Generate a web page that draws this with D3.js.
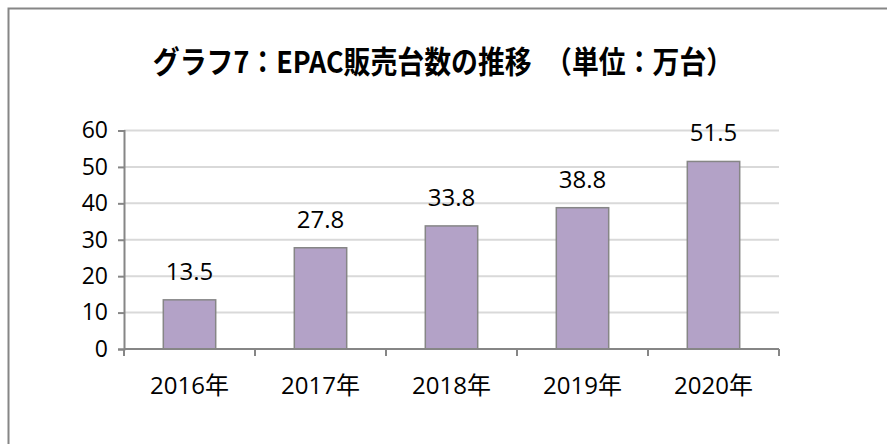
<!DOCTYPE html>
<html>
<head>
<meta charset="utf-8">
<script src="https://cdn.jsdelivr.net/npm/d3@7"></script>
<style>
  body { margin: 0; background: #fff; }
  svg { display: block; }
</style>
</head>
<body>
<svg id="chart" width="887" height="444"></svg>
<script>
// データ
const categories = ["2016年", "2017年", "2018年", "2019年", "2020年"]
const values = [13.5, 27.8, 33.8, 38.8, 51.5]
const yTicks = [0, 10, 20, 30, 40, 50, 60]
const title = "グラフ7：EPAC販売台数の推移　（単位：万台）"

const width = 887
const height = 444
const margin = { top: 130.5, right: 108, bottom: 95, left: 124 }
const font = "'Open Sans', 'Noto Sans CJK JP', sans-serif"

const svg = d3.select("#chart")

// 外枠
svg.append("rect")
    .attr("x", 8.5).attr("y", 8.5)
    .attr("width", width + 20).attr("height", height + 20)
    .attr("fill", "#fff")
    .attr("stroke", "#868686")
    .attr("stroke-width", 2)

// タイトル（縦長の書体に近づける）
svg.append("text")
    .attr("transform", "translate(443,73) scale(0.96,1.08)")
    .attr("text-anchor", "middle")
    .attr("font-family", "'Noto Sans CJK JP', sans-serif")
    .attr("font-weight", "bold")
    .attr("font-size", 28)
    .attr("fill", "#000")
    .text(title)

// 比例尺
const xScale = d3.scaleBand()
    .domain(categories)
    .range([margin.left, width - margin.right])
    .paddingInner(0.6)
    .paddingOuter(0.3)

const bandScale = d3.scaleBand()
    .domain(categories)
    .range([margin.left, width - margin.right])

const yScale = d3.scaleLinear()
    .domain([0, 60])
    .range([height - margin.bottom, margin.top])

// グリッド線
svg.append("g")
    .selectAll("line")
    .data(yTicks.filter(d => d > 0))
    .enter()
    .append("line")
    .attr("x1", margin.left).attr("x2", width - margin.right)
    .attr("y1", d => yScale(d)).attr("y2", d => yScale(d))
    .attr("stroke", "#d9d9d9")
    .attr("stroke-width", 2)

// 棒
svg.append("g")
    .selectAll("rect")
    .data(values)
    .enter()
    .append("rect")
    .attr("x", (d, i) => xScale(categories[i]))
    .attr("y", d => yScale(d))
    .attr("width", xScale.bandwidth())
    .attr("height", d => yScale(0) - yScale(d))
    .attr("fill", "#b3a2c7")
    .attr("stroke", "#868686")
    .attr("stroke-width", 1.5)

// データラベル
svg.append("g")
    .selectAll("text")
    .data(values)
    .enter()
    .append("text")
    .attr("x", (d, i) => xScale(categories[i]) + xScale.bandwidth() / 2)
    .attr("y", d => yScale(d) - 20)
    .attr("text-anchor", "middle")
    .attr("font-family", font)
    .attr("font-size", 24)
    .attr("fill", "#000")
    .text(d => d.toFixed(1))

// Y軸
const yAxis = svg.append("g")
    .attr("transform", "translate(" + margin.left + ",0)")
    .call(d3.axisLeft(yScale).tickValues(yTicks).tickSize(6).tickPadding(10))
yAxis.select(".domain").attr("stroke", "#868686").attr("stroke-width", 2)
yAxis.selectAll(".tick line").attr("stroke", "#868686").attr("stroke-width", 2)
yAxis.selectAll(".tick text")
    .attr("font-family", font)
    .attr("font-size", 23)
    .attr("fill", "#000")

// X軸
const xAxis = svg.append("g")
    .attr("transform", "translate(0," + yScale(0) + ")")
xAxis.append("line")
    .attr("x1", margin.left).attr("x2", width - margin.right)
    .attr("stroke", "#868686").attr("stroke-width", 2)
xAxis.selectAll(".xtick")
    .data(categories.map(c => bandScale(c)).concat([width - margin.right]))
    .enter()
    .append("line")
    .attr("x1", d => d).attr("x2", d => d)
    .attr("y1", 0).attr("y2", 7)
    .attr("stroke", "#868686").attr("stroke-width", 2)
xAxis.selectAll(".xlabel")
    .data(categories)
    .enter()
    .append("text")
    .attr("x", d => bandScale(d) + bandScale.bandwidth() / 2)
    .attr("y", 45)
    .attr("text-anchor", "middle")
    .attr("font-family", font)
    .attr("font-size", 24)
    .attr("fill", "#000")
    .text(d => d)
</script>
</body>
</html>
